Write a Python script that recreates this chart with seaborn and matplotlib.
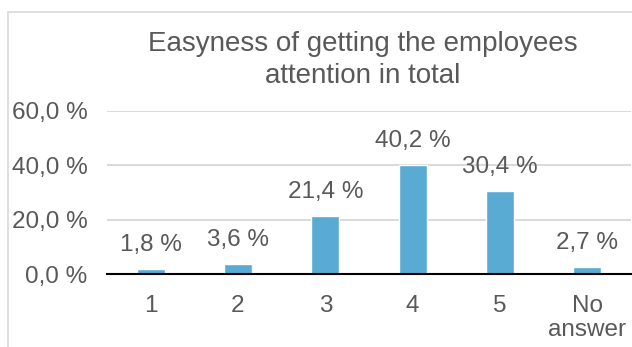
import matplotlib
matplotlib.use("Agg")
import matplotlib.pyplot as plt
import seaborn as sns
import pandas as pd
from matplotlib.patches import Rectangle

categories = ["1", "2", "3", "4", "5", "No\nanswer"]
shares = [1.8, 3.6, 21.4, 40.2, 30.4, 2.7]
y_ticks = [0, 20, 40, 60]
title = "Easyness of getting the employees\nattention in total"

bar_color = "#5aabd4"
text_color = "#595959"
grid_color = "#d9d9d9"

sns.set_theme(style="white")
plt.rcParams["font.family"] = ["Liberation Sans", "DejaVu Sans"]

df = pd.DataFrame({"answer": categories, "share": shares})

fig = plt.figure(figsize=(6.32, 3.47), dpi=100)
W, H = 632, 347

# chart frame
fig.patches.append(Rectangle((8 / W, -0.1), 1.2, (H - 12) / H + 0.1,
                             transform=fig.transFigure, fill=False,
                             edgecolor=grid_color, linewidth=1.2))

ax = fig.add_axes([107 / W, 73 / H, 524 / W, 163.3 / H])
sns.barplot(data=df, x="answer", y="share", color=bar_color, width=0.32,
            saturation=1, ax=ax)

ax.set_xlim(-0.5, len(categories) - 0.5)
ax.set_ylim(0, 60)
ax.set_yticks(y_ticks)
ax.set_yticklabels([f"{t:.1f} %".replace(".", ",") for t in y_ticks])
ax.yaxis.grid(True, color=grid_color, linewidth=1.4)
ax.set_axisbelow(True)
for s in ["top", "right", "left"]:
    ax.spines[s].set_visible(False)
ax.spines["bottom"].set_color("black")
ax.spines["bottom"].set_linewidth(1.5)
ax.set_xlabel("")
ax.set_ylabel("")
ax.tick_params(axis="both", length=0, labelsize=17.5, labelcolor=text_color)
ax.tick_params(axis="y", pad=14)
ax.tick_params(axis="x", pad=15)
for lbl in ax.get_xticklabels():
    lbl.set_linespacing(1.12)

for p, v in zip(ax.patches, shares):
    ax.annotate(f"{v:.1f} %".replace(".", ","),
                (p.get_x() + p.get_width() / 2, p.get_height()),
                xytext=(0, 13), textcoords="offset points",
                ha="center", va="baseline", fontsize=17.5, color=text_color,
                annotation_clip=False)

fig.text(363 / W, 1 - 31 / H, title, ha="center", va="top",
         fontsize=20, color=text_color, linespacing=1.3)

fig.savefig("out.png", dpi=100)
